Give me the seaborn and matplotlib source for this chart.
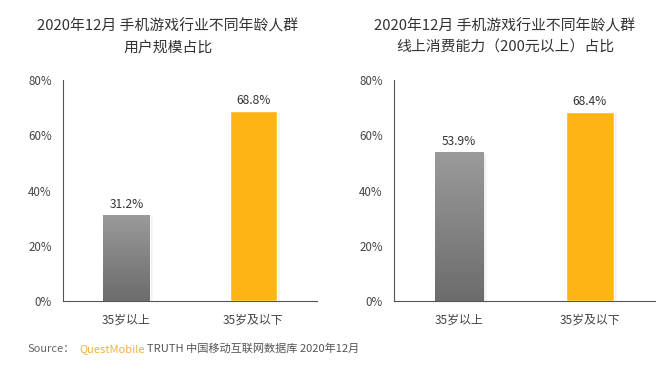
import numpy as np
import pandas as pd
import matplotlib
matplotlib.use("Agg")
import matplotlib.pyplot as plt
import seaborn as sns
from matplotlib.colors import LinearSegmentedColormap

categories = ["35岁以上", "35岁及以下"]
user_share = [31.2, 68.8]
spend_share = [53.9, 68.4]
yticks = [0, 20, 40, 60, 80]
ytick_labels = ["0%", "20%", "40%", "60%", "80%"]
title_left = "2020年12月 手机游戏行业不同年龄人群\n用户规模占比"
title_right = "2020年12月 手机游戏行业不同年龄人群\n线上消费能力（200元以上）占比"

sns.set_theme(style="white")
plt.rcParams["font.family"] = ["Noto Sans CJK SC", "DejaVu Sans"]

GREY = "#858585"
ORANGE = "#FDB515"
TXT = "#333333"

fig = plt.figure(figsize=(6.72, 3.91), dpi=100)
W, H = 672, 391

def ax_rect(x0, x1, ytop, ybot):
    return [x0 / W, 1 - ybot / H, (x1 - x0) / W, (ybot - ytop) / H]

axL = fig.add_axes(ax_rect(63, 317, 80, 301))
axR = fig.add_axes(ax_rect(394, 655, 80, 301))

grey_cmap = LinearSegmentedColormap.from_list("g", ["#9a9a9a", "#6c6c6c"])

def draw(ax, values):
    df = pd.DataFrame({"cat": categories, "val": values})
    sns.barplot(data=df, x="cat", y="val", hue="cat", order=categories,
                palette=[GREY, ORANGE], width=0.37, legend=False, ax=ax,
                saturation=1, zorder=3)
    ax.set_ylim(0, 80)
    ax.set_xlim(-0.5, 1.5)
    ax.set_yticks(yticks)
    ax.set_yticklabels(ytick_labels)
    ax.set_xlabel("")
    ax.set_ylabel("")
    ax.tick_params(axis="y", length=0, pad=8, labelsize=8.3, labelcolor="#444444")
    ax.tick_params(axis="x", length=0, pad=9, labelsize=8.6, labelcolor="#444444")
    for s in ["top", "right"]:
        ax.spines[s].set_visible(False)
    for s in ["left", "bottom"]:
        ax.spines[s].set_color("#555555")
        ax.spines[s].set_linewidth(0.8)
    patches = list(ax.patches)
    for i, p in enumerate(patches):
        x, w, h = p.get_x(), p.get_width(), p.get_height()
        # soft shadow
        for k, c in enumerate(["#e0e0e0", "#ececec", "#f5f5f5"]):
            ax.add_patch(plt.Rectangle((x + w, 0), 0.008 * (k + 1), h - 0.8,
                                       color=c, zorder=2 - k * 0.1, lw=0))
        if i == 0:
            grad = np.linspace(0, 1, 100).reshape(-1, 1)
            im = ax.imshow(grad, cmap=grey_cmap, aspect="auto",
                           extent=(x, x + w, 0, h), origin="upper", zorder=4)
            im.set_clip_path(p)
        ax.text(x + w / 2, h + 1.5, f"{h:.1f}%", ha="center", va="bottom",
                fontsize=8.6, color=TXT, zorder=5)
    ax.set_xlim(-0.5, 1.5)
    ax.set_ylim(0, 80)

draw(axL, user_share)
draw(axR, spend_share)

for xc, t in [(168, title_left), (505, title_right)]:
    fig.text(xc / W, 1 - 37 / H, t, ha="center", va="center", fontsize=10.7,
             color=TXT, linespacing=1.6)

fig.text(28 / W, 1 - 349 / H, "Source：", fontsize=8, color="#666666", va="center")
fig.text(79 / W, 1 - 349 / H, "QuestMobile", fontsize=8, color="#F2B13A", va="center")
fig.text(147 / W, 1 - 349 / H, "TRUTH 中国移动互联网数据库 2020年12月", fontsize=8,
         color="#555555", va="center")

fig.savefig("out.png", dpi=100)
